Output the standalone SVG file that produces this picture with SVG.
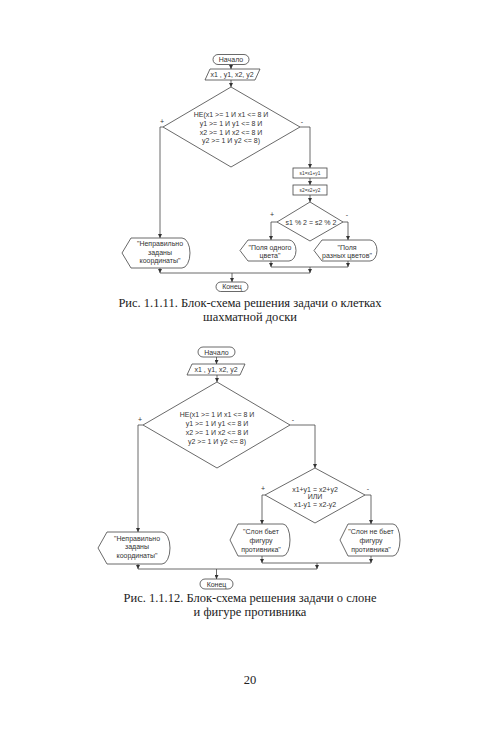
<svg xmlns="http://www.w3.org/2000/svg" width="500" height="749" viewBox="0 0 500 749">
<style>
.s{fill:#fff;stroke:#444;stroke-width:0.8}
.c{fill:none;stroke:#444;stroke-width:0.8}
.t{font-family:"Liberation Sans",Arial,sans-serif;font-size:7px;fill:#333;text-anchor:middle}
.ts{font-family:"Liberation Sans",Arial,sans-serif;font-size:4.8px;fill:#333;text-anchor:middle}
.cap{font-family:"Liberation Serif","Times New Roman",serif;font-size:12.5px;fill:#222;text-anchor:middle}
</style>
<defs>
<marker id="a" markerUnits="userSpaceOnUse" markerWidth="4" markerHeight="4" refX="4" refY="2" orient="auto">
<path d="M0,0 L4,2 L0,4 z" fill="#333"/>
</marker>
</defs>
<rect width="500" height="749" fill="#fff"/>

<!-- Chart 1 -->
<g id="start1"><rect class="s" x="213" y="54.5" width="36" height="10" rx="5"/><text class="t" x="231" y="62">Начало</text></g>
<g id="input1"><polygon class="s" points="210,69 260,69 255,80 205,80"/><text class="t" x="232" y="77">x1 , y1, x2, y2</text></g>
<g id="cond1"><polygon class="s" points="231,87 300,127 231,167 163,127"/>
<text class="t" x="231" y="116.5">НЕ(x1 &gt;= 1 И x1 &lt;= 8 И</text>
<text class="t" x="231" y="125.5">y1 &gt;= 1 И y1 &lt;= 8 И</text>
<text class="t" x="231" y="134.5">x2 &gt;= 1 И x2 &lt;= 8 И</text>
<text class="t" x="231" y="142.5">y2 &gt;= 1 И y2 &lt;= 8)</text>
<text class="t" x="162" y="124">+</text><text class="t" x="302" y="124">-</text></g>
<g id="box1"><rect class="s" x="293" y="168" width="34" height="10"/><text class="ts" x="310" y="174.7">s1=x1+y1</text></g>
<g id="box2"><rect class="s" x="293" y="185" width="34" height="10"/><text class="ts" x="310" y="191.7">s2=x2+y2</text></g>
<g id="cond2"><polygon class="s" points="310,202 343,222 310,241 277,222"/>
<text class="t" x="311" y="224.5">s1 % 2 = s2 % 2</text>
<text class="t" x="272" y="217">+</text><text class="t" x="347" y="217">-</text></g>
<g id="out1a"><path class="s" d="M122,253 L131,238 L182,238 A8,15 0 0 1 182,268 L131,268 Z"/>
<text class="t" x="160" y="245.5">"Неправильно</text><text class="t" x="160" y="254.5">заданы</text><text class="t" x="160" y="263">координаты"</text></g>
<g id="out1b"><path class="s" d="M240,250.5 L248,240 L289,240 A7,10.5 0 0 1 289,261 L248,261 Z"/>
<text class="t" x="270" y="249.5">"Поля одного</text><text class="t" x="270" y="257.5">цвета"</text></g>
<g id="out1c"><path class="s" d="M314,250.5 L322,240 L370,240 A7,10.5 0 0 1 370,261 L322,261 Z"/>
<text class="t" x="347" y="249.5">"Поля</text><text class="t" x="347" y="257.5">разных цветов"</text></g>
<g id="end1"><rect class="s" x="216" y="282" width="32" height="9.5" rx="4.75"/><text class="t" x="232" y="289">Конец</text></g>

<!-- Chart 2 -->
<g id="start2"><rect class="s" x="198" y="347" width="37" height="10" rx="5"/><text class="t" x="216.5" y="354.5">Начало</text></g>
<g id="input2"><polygon class="s" points="192,364 245,364 240,375 187,375"/><text class="t" x="216" y="372">x1 , y1, x2, y2</text></g>
<g id="cond3"><polygon class="s" points="217,382 290,425 217,468 143,425"/>
<text class="t" x="217" y="416.5">НЕ(x1 &gt;= 1 И x1 &lt;= 8 И</text>
<text class="t" x="217" y="425.5">y1 &gt;= 1 И y1 &lt;= 8 И</text>
<text class="t" x="217" y="434.5">x2 &gt;= 1 И x2 &lt;= 8 И</text>
<text class="t" x="217" y="443.5">y2 &gt;= 1 И y2 &lt;= 8)</text>
<text class="t" x="140" y="422">+</text><text class="t" x="293" y="422">-</text></g>
<g id="cond4"><polygon class="s" points="315,468 365,495 315,523 265,495"/>
<text class="t" x="315" y="491.5">x1+y1 = x2+y2</text>
<text class="t" x="315" y="499">ИЛИ</text>
<text class="t" x="315" y="506.5">x1-y1 = x2-y2</text>
<text class="t" x="263" y="491">+</text><text class="t" x="368" y="491">-</text></g>
<g id="out2a"><path class="s" d="M98,548 L107,532 L162,532 A8,16 0 0 1 162,564 L107,564 Z"/>
<text class="t" x="137" y="540.5">"Неправильно</text><text class="t" x="137" y="549">заданы</text><text class="t" x="137" y="557.5">координаты"</text></g>
<g id="out2b"><path class="s" d="M230,540 L238,524 L283,524 A7,16 0 0 1 283,556 L238,556 Z"/>
<text class="t" x="261" y="533.5">"Слон бьет</text><text class="t" x="261" y="542.5">фигуру</text><text class="t" x="261" y="551.5">противника"</text></g>
<g id="out2c"><path class="s" d="M340,540 L348,524 L393,524 A7,16 0 0 1 393,556 L348,556 Z"/>
<text class="t" x="371" y="533.5">"Слон не бьет</text><text class="t" x="371" y="542.5">фигуру</text><text class="t" x="371" y="551.5">противника"</text></g>
<g id="end2"><rect class="s" x="200" y="579" width="33" height="10" rx="5"/><text class="t" x="216.5" y="586.5">Конец</text></g>

<g id="connectors">
<path class="c" d="M231,64.5 L231,69" marker-end="url(#a)"/>
<path class="c" d="M231,80 L231,87" marker-end="url(#a)"/>
<path class="c" d="M163,127 L160,127 L160,238" marker-end="url(#a)"/>
<path class="c" d="M300,127 L310,127 L310,168" marker-end="url(#a)"/>
<path class="c" d="M310,178 L310,185" marker-end="url(#a)"/>
<path class="c" d="M310,195 L310,202" marker-end="url(#a)"/>
<path class="c" d="M277,222 L271,222 L271,240" marker-end="url(#a)"/>
<path class="c" d="M343,222 L348,222 L348,240" marker-end="url(#a)"/>
<path class="c" d="M271,261 L271,267" marker-end="url(#a)"/>
<path class="c" d="M348,261 L348,267" marker-end="url(#a)"/>
<path class="c" d="M271,267 L348,267"/>
<path class="c" d="M310,267 L310,273" marker-end="url(#a)"/>
<path class="c" d="M160,268 L160,273" marker-end="url(#a)"/>
<path class="c" d="M160,273 L310,273"/>
<path class="c" d="M232,273 L232,282" marker-end="url(#a)"/>

<path class="c" d="M216.5,357 L216.5,364" marker-end="url(#a)"/>
<path class="c" d="M217,375 L217,382" marker-end="url(#a)"/>
<path class="c" d="M143,425 L138,425 L138,532" marker-end="url(#a)"/>
<path class="c" d="M290,425 L315,425 L315,468" marker-end="url(#a)"/>
<path class="c" d="M265,495 L262,495 L262,524" marker-end="url(#a)"/>
<path class="c" d="M365,495 L371,495 L371,524" marker-end="url(#a)"/>
<path class="c" d="M262,556 L262,563" marker-end="url(#a)"/>
<path class="c" d="M371,556 L371,563" marker-end="url(#a)"/>
<path class="c" d="M262,563 L371,563"/>
<path class="c" d="M317,563 L317,569" marker-end="url(#a)"/>
<path class="c" d="M138,564 L138,569" marker-end="url(#a)"/>
<path class="c" d="M138,569 L317,569"/>
<path class="c" d="M216.5,569 L216.5,579" marker-end="url(#a)"/>
</g>

<text class="cap" x="250" y="307">Рис. 1.1.11. Блок-схема решения задачи о клетках</text>
<text class="cap" x="250" y="321">шахматной доски</text>
<text class="cap" x="250" y="602">Рис. 1.1.12. Блок-схема решения задачи о слоне</text>
<text class="cap" x="250" y="616">и фигуре противника</text>
<text class="cap" x="250" y="684">20</text>
</svg>
